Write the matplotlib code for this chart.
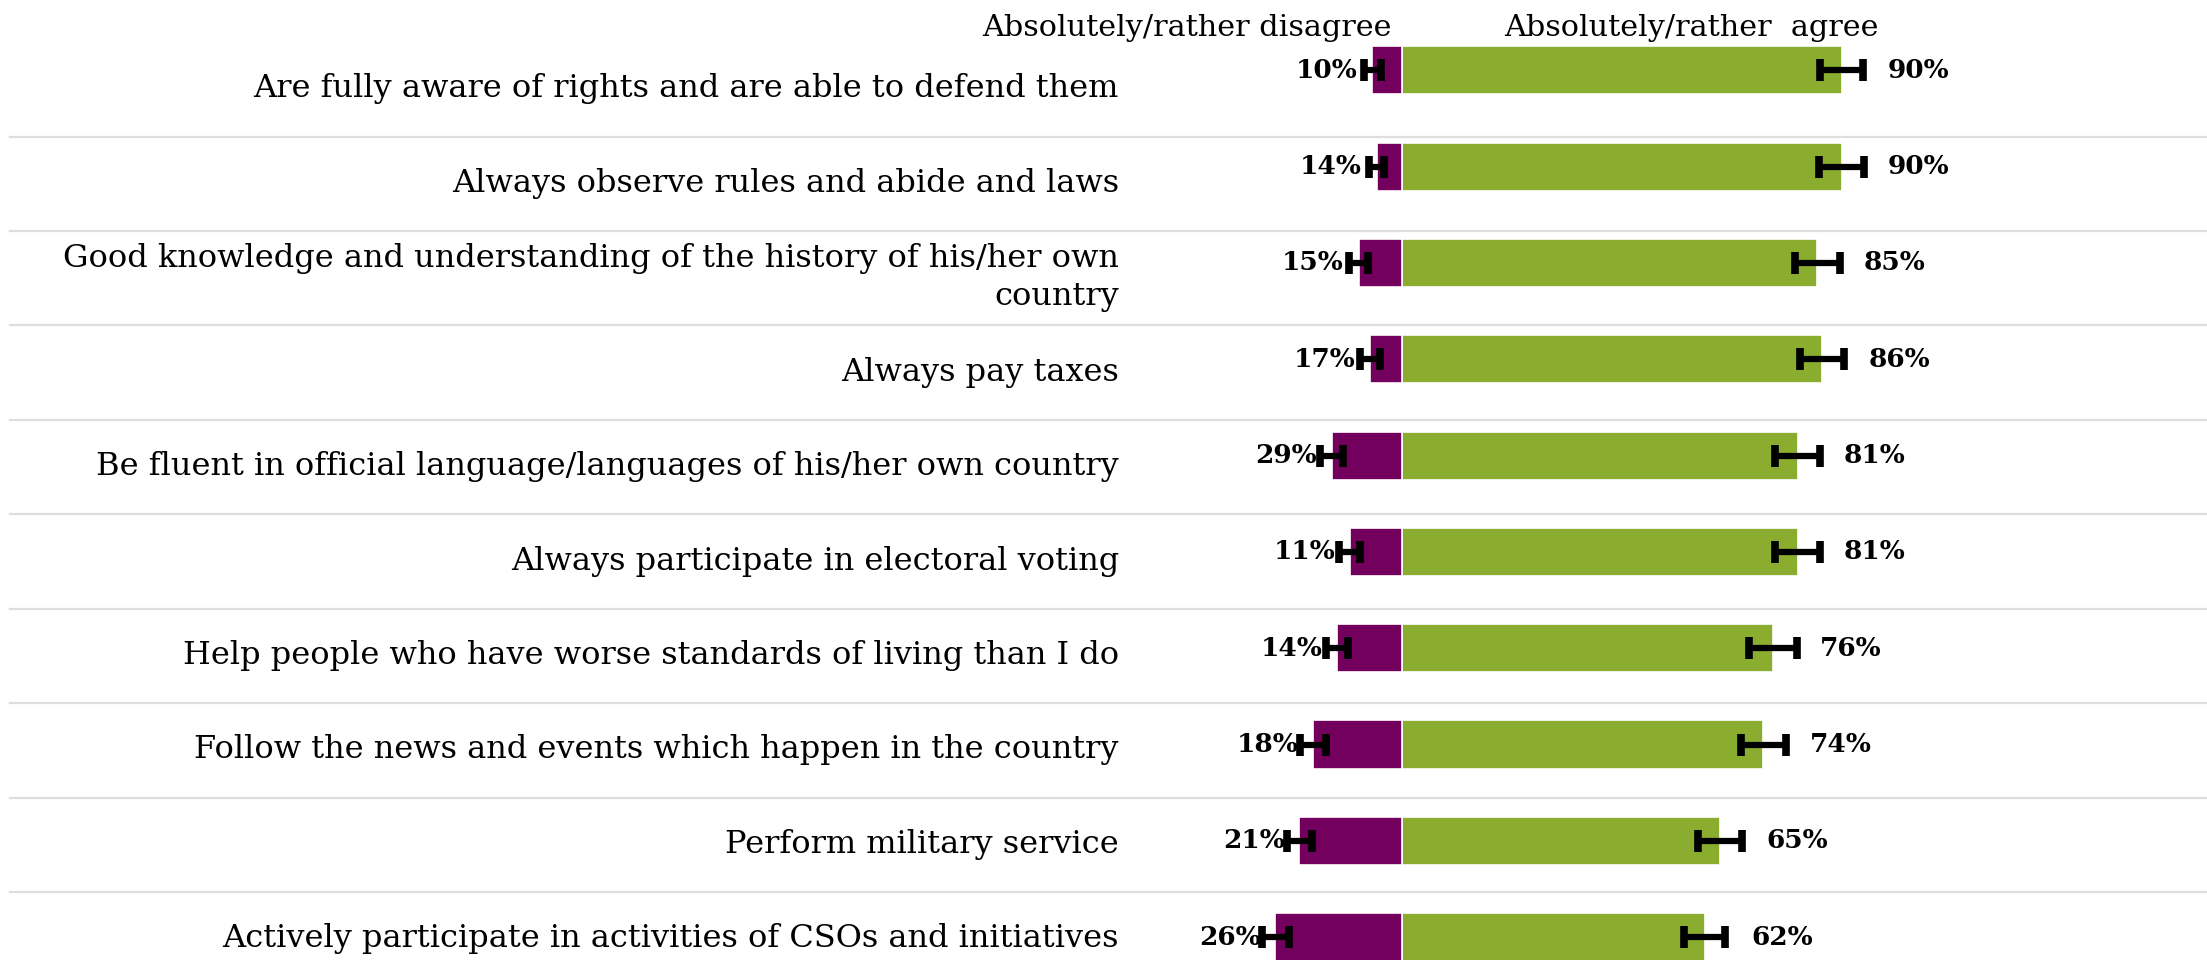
import matplotlib
matplotlib.use("Agg")
import matplotlib.pyplot as plt
import numpy as np

categories = [
    "Are fully aware of rights and are able to defend them",
    "Always observe rules and abide and laws",
    "Good knowledge and understanding of the history of his/her own\ncountry",
    "Always pay taxes",
    "Be fluent in official language/languages of his/her own country",
    "Always participate in electoral voting",
    "Help people who have worse standards of living than I do",
    "Follow the news and events which happen in the country",
    "Perform military service",
    "Actively participate in activities of CSOs and initiatives",
]
agree = [90, 90, 85, 86, 81, 81, 76, 74, 65, 62]
agree_err = [4.4, 4.6, 4.6, 4.5, 4.6, 4.6, 4.9, 4.6, 4.5, 4.2]
disagree = [6.1, 5.2, 8.9, 6.6, 14.4, 10.7, 13.3, 18.2, 21.0, 25.9]
disagree_err = [1.7, 1.6, 2.0, 2.0, 2.4, 2.2, 2.3, 2.6, 2.6, 2.7]
disagree_labels = ["10%", "14%", "15%", "17%", "29%", "11%", "14%", "18%", "21%", "26%"]
agree_labels = ["90%", "90%", "85%", "86%", "81%", "81%", "76%", "74%", "65%", "62%"]
header_left = "Absolutely/rather disagree"
header_right = "Absolutely/rather  agree"

PURPLE = "#72005c"
GREEN = "#8aad30"

W, H = 2207, 960
fig = plt.figure(figsize=(W / 100, H / 100), dpi=100)
ax = fig.add_axes([0, 0, 1, 1])
ax.set_axis_off()

center_px = 1402.0
px_per_pct = 4.885
ax.set_xlim(-center_px / px_per_pct, (W - center_px) / px_per_pct)
row_px = 96.3
top_px = 70.4
ax.set_ylim((H - top_px) / row_px, -top_px / row_px)

y = np.arange(len(categories))
neg = -np.array(disagree)
ax.barh(y, agree, height=0.5, color=GREEN, edgecolor="white", linewidth=1.2, zorder=2)
ax.barh(y, neg, height=0.5, color=PURPLE, edgecolor="white", linewidth=1.2, zorder=2)

ekw = dict(fmt="none", ecolor="black", elinewidth=4.5, capsize=8, capthick=5.5, zorder=3)
ax.errorbar(agree, y, xerr=agree_err, **ekw)
ax.errorbar(neg, y, xerr=disagree_err, **ekw)

serif = ["DejaVu Serif"]
for yi, v, lab in zip(y, agree, agree_labels):
    ax.text(v + 9.5, yi, lab, ha="left", va="center", fontsize=19,
            fontweight="bold", family=serif, zorder=4)
for yi, v, lab in zip(y, neg, disagree_labels):
    ax.text(v - 3.0, yi, lab, ha="right", va="center", fontsize=19,
            fontweight="bold", family=serif, zorder=4)

# row layout (separators and category labels)
step = 0.981
label_y = 0.19 + step * y
sep_y = 0.687 + step * y[:-1]
for s in sep_y:
    ax.axhline(s, xmin=0.0045, xmax=1.0, color="#dedede", linewidth=1.6, zorder=1)

trans = ax.get_yaxis_transform()
for ly, cat in zip(label_y, categories):
    ax.text(0.507, ly, cat, transform=trans, ha="right", va="center",
            fontsize=23, family=serif, linespacing=1.3, zorder=4)

ax.text(-44, -0.44, header_left, ha="center", va="center", fontsize=21.8, family=serif)
ax.text(59.3, -0.44, header_right, ha="center", va="center", fontsize=21.8, family=serif)

fig.savefig("out.png", dpi=100)
